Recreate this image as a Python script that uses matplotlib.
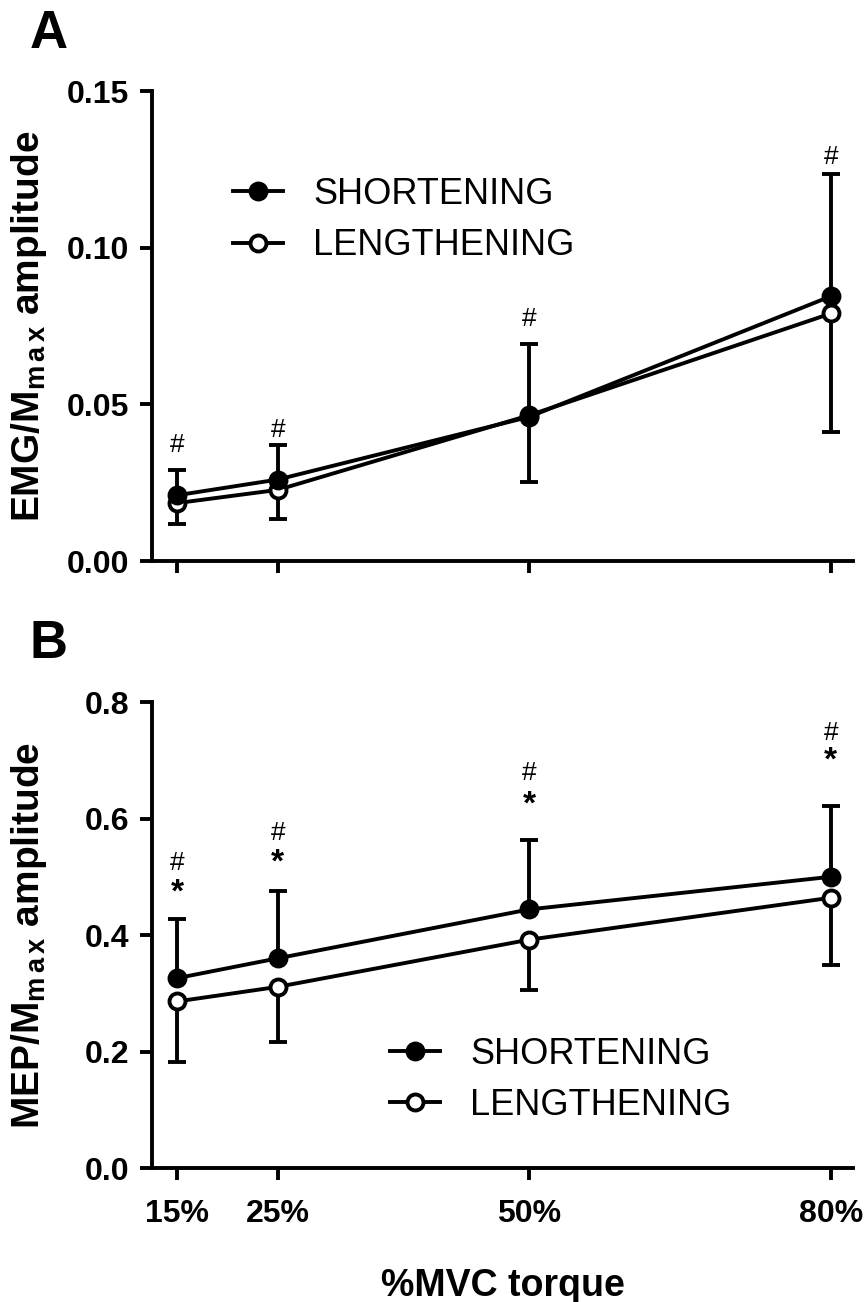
import numpy as np
import matplotlib
matplotlib.use('Agg')
import matplotlib.pyplot as plt

plt.rcParams['font.family'] = ['Liberation Sans', 'DejaVu Sans']
plt.rcParams['mathtext.fontset'] = 'custom'
plt.rcParams['mathtext.rm'] = 'Liberation Sans'
plt.rcParams['mathtext.bf'] = 'Liberation Sans:bold'

# %MVC torque levels
mvc = [15, 25, 50, 80]
mvc_labels = ['15%', '25%', '50%', '80%']

# Panel A: EMG/Mmax (mean, SD)
emg_short = [0.021, 0.026, 0.046, 0.0845]
emg_short_sd = [0.008, 0.011, 0.0234, 0.039]
emg_leng = [0.0185, 0.0227, 0.0465, 0.079]
emg_leng_sd = [0.0067, 0.0092, 0.0212, 0.0377]
emg_hash = [0.037, 0.0418, 0.0771, 0.1289]

# Panel B: MEP/Mmax (mean, SD)
mep_short = [0.326, 0.360, 0.444, 0.500]
mep_short_sd = [0.102, 0.115, 0.119, 0.121]
mep_leng = [0.286, 0.311, 0.392, 0.464]
mep_leng_sd = [0.104, 0.094, 0.087, 0.116]
mep_hash = [0.524, 0.575, 0.678, 0.747]
mep_star = [0.472, 0.524, 0.623, 0.698]

LW = 2.8
fig = plt.figure(figsize=(8.67, 13.02), dpi=100)
axA = fig.add_axes([0.1753, 0.5691, 0.8085, 0.361])
axB = fig.add_axes([0.1753, 0.1029, 0.8085, 0.3579])


def draw(ax, short, short_sd, leng, leng_sd):
    z = np.zeros(len(mvc))
    ax.errorbar(mvc, short, yerr=[z, short_sd], fmt='none', ecolor='black',
                elinewidth=LW, capsize=6.5, capthick=LW, zorder=2)
    ax.errorbar(mvc, leng, yerr=[leng_sd, z], fmt='none', ecolor='black',
                elinewidth=LW, capsize=6.5, capthick=LW, zorder=2)
    ax.plot(mvc, leng, color='black', lw=LW, marker='o', ms=11.5,
            mfc='white', mec='black', mew=2.8, zorder=3, label='LENGTHENING')
    ax.plot(mvc, short, color='black', lw=LW, marker='o', ms=11.5,
            mfc='black', mec='black', mew=2.8, zorder=4, label='SHORTENING')
    ax.set_xlim(12.5, 82.2)
    ax.set_xticks(mvc)
    for s in ['top', 'right']:
        ax.spines[s].set_visible(False)
    for s in ['left', 'bottom']:
        ax.spines[s].set_linewidth(LW)
    ax.tick_params(width=LW, length=8.6, labelsize=23, pad=8)
    h, l = ax.get_legend_handles_labels()
    return h[::-1], l[::-1]


h, l = draw(axA, emg_short, emg_short_sd, emg_leng, emg_leng_sd)
axA.set_ylim(0, 0.15)
axA.set_yticks([0, 0.05, 0.10, 0.15])
axA.set_yticklabels(['0.00', '0.05', '0.10', '0.15'], fontweight='bold')
axA.set_xticklabels([])
axA.set_ylabel(r'EMG/M$_{\mathbf{m\,a\,x}}$ amplitude', fontsize=28, fontweight='bold')
axA.yaxis.set_label_coords(-0.147, 0.5)
axA.legend(h, l, loc='center left', bbox_to_anchor=(0.116, 0.7255), frameon=False,
           fontsize=26, handlelength=1.38, handletextpad=0.83, labelspacing=0.45,
           borderpad=0, borderaxespad=0)
for x, y in zip(mvc, emg_hash):
    axA.text(x, y, '#', ha='center', va='center', fontsize=19)

h, l = draw(axB, mep_short, mep_short_sd, mep_leng, mep_leng_sd)
axB.set_ylim(0, 0.8)
axB.set_yticks([0, 0.2, 0.4, 0.6, 0.8])
axB.set_yticklabels(['0.0', '0.2', '0.4', '0.6', '0.8'], fontweight='bold')
axB.set_xticklabels(mvc_labels, fontweight='bold')
axB.tick_params(axis='x', pad=14)
axB.set_ylabel(r'MEP/M$_{\mathbf{m\,a\,x}}$ amplitude', fontsize=28, fontweight='bold')
axB.yaxis.set_label_coords(-0.147, 0.5)
axB.set_xlabel('%MVC torque', fontsize=27, fontweight='bold', labelpad=28)
axB.legend(h, l, loc='center left', bbox_to_anchor=(0.34, 0.189), frameon=False,
           fontsize=26, handlelength=1.38, handletextpad=0.83, labelspacing=0.45,
           borderpad=0, borderaxespad=0)
for x, y in zip(mvc, mep_hash):
    axB.text(x, y, '#', ha='center', va='center', fontsize=19)
for x, y in zip(mvc, mep_star):
    axB.text(x, y, '*', ha='center', va='center', fontsize=24, fontweight='bold')

fig.text(0.0346, 0.9631, 'A', fontsize=38, fontweight='bold', va='baseline')
fig.text(0.0346, 0.4946, 'B', fontsize=38, fontweight='bold', va='baseline')

fig.savefig('out.png', dpi=100)
